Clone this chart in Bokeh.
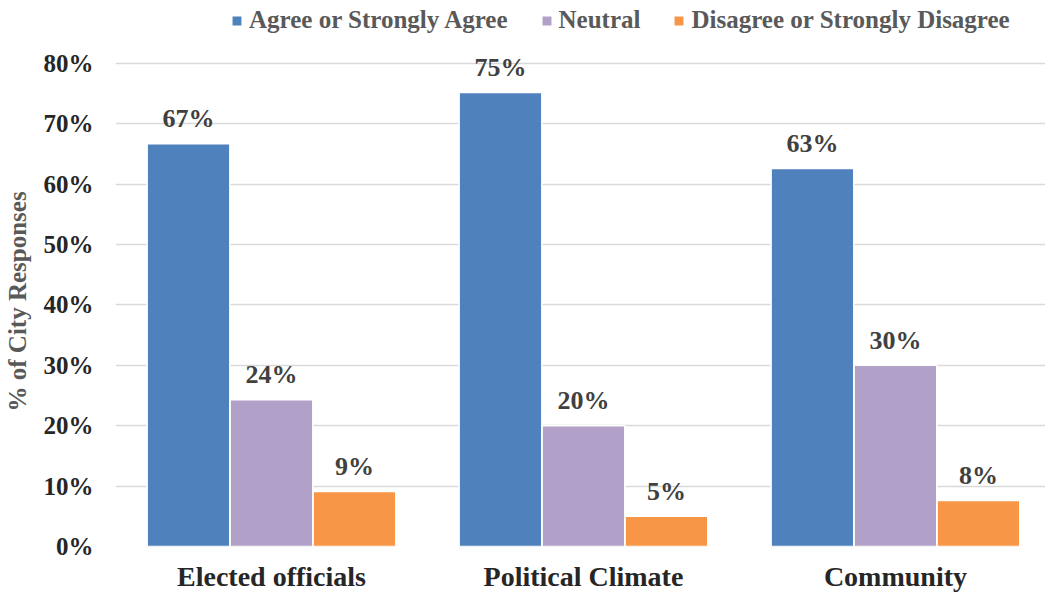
from bokeh.plotting import figure
from bokeh.models import ColumnDataSource, Legend, LegendItem, FixedTicker, NumeralTickFormatter, Range1d, Title
from bokeh.embed import file_html
from bokeh.resources import INLINE
from bokeh.core.properties import value

categories = ["Elected officials", "Political Climate", "Community"]
series_names = ["Agree or Strongly Agree", "Neutral", "Disagree or Strongly Disagree"]
agree = [0.667, 0.752, 0.626]
neutral = [0.243, 0.200, 0.300]
disagree = [0.091, 0.050, 0.076]
agree_labels = ["67%", "75%", "63%"]
neutral_labels = ["24%", "20%", "30%"]
disagree_labels = ["9%", "5%", "8%"]
y_ticks = [0, 0.1, 0.2, 0.3, 0.4, 0.5, 0.6, 0.7, 0.8]
y_title = "% of City Responses"

colors = ["#4F81BD", "#B1A0C7", "#F79646"]
FONT = "Liberation Serif"

p = figure(width=1045, height=594, output_backend="svg", toolbar_location=None,
           x_range=Range1d(-0.5, 2.481), y_range=Range1d(0, 0.9043),
           min_border_left=115, min_border_right=0, min_border_top=0, min_border_bottom=48)
p.outline_line_color = None
p.background_fill_color = "white"

xs = list(range(len(categories)))
offsets = [-0.266, 0.0, 0.266]
series = [agree, neutral, disagree]
labels = [agree_labels, neutral_labels, disagree_labels]
items = []
for i, (vals, labs) in enumerate(zip(series, labels)):
    src = ColumnDataSource(dict(x=[x + offsets[i] for x in xs], top=vals, lab=labs))
    r = p.vbar(x="x", top="top", width=0.265, source=src, fill_color=colors[i],
               line_color="white", line_width=1.5)
    p.text(x="x", y="top", text="lab", source=src, text_align="center",
           text_baseline="alphabetic", y_offset=-25, text_font=value(FONT),
           text_font_style="bold", text_font_size="26px", text_color="#404040")
    items.append(LegendItem(label=series_names[i], renderers=[r]))

legend = Legend(items=items, orientation="horizontal", location=(115, 512),
                label_text_font=FONT, label_text_font_style="bold",
                label_text_font_size="25px", label_text_color="#595959",
                glyph_width=13, glyph_height=13, label_standoff=6, spacing=32,
                padding=0, margin=0, border_line_color=None, background_fill_alpha=0)
p.add_layout(legend)

ytitle = Title(text=y_title, align="left", offset=135, vertical_align="bottom",
               text_font=FONT, text_font_style="bold", text_font_size="25px",
               text_color="#595959", standoff=0)
p.add_layout(ytitle, "left")

p.yaxis.ticker = FixedTicker(ticks=y_ticks)
p.yaxis.formatter = NumeralTickFormatter(format="0%")
p.yaxis.axis_line_color = None
p.yaxis.major_tick_line_color = None
p.yaxis.minor_tick_line_color = None
p.yaxis.major_label_standoff = 16
p.yaxis.major_label_text_font = FONT
p.yaxis.major_label_text_font_style = "bold"
p.yaxis.major_label_text_font_size = "25px"
p.yaxis.major_label_text_color = "#262626"
p.yaxis.axis_label = " "
p.yaxis.axis_label_text_font_size = "1px"
p.yaxis.axis_label_standoff = 6

p.xaxis.ticker = FixedTicker(ticks=xs)
p.xaxis.major_label_overrides = {i: c for i, c in enumerate(categories)}
p.xaxis.axis_line_color = None
p.xaxis.major_tick_line_color = None
p.xaxis.minor_tick_line_color = None
p.xaxis.major_label_standoff = 8
p.xaxis.major_label_text_font = FONT
p.xaxis.major_label_text_font_style = "bold"
p.xaxis.major_label_text_font_size = "28px"
p.xaxis.major_label_text_color = "#262626"

p.xgrid.grid_line_color = None
p.ygrid.ticker = FixedTicker(ticks=y_ticks)
p.ygrid.grid_line_color = "#D9D9D9"
p.ygrid.grid_line_width = 1.5

open("out.html", "w").write(file_html(p, INLINE))
